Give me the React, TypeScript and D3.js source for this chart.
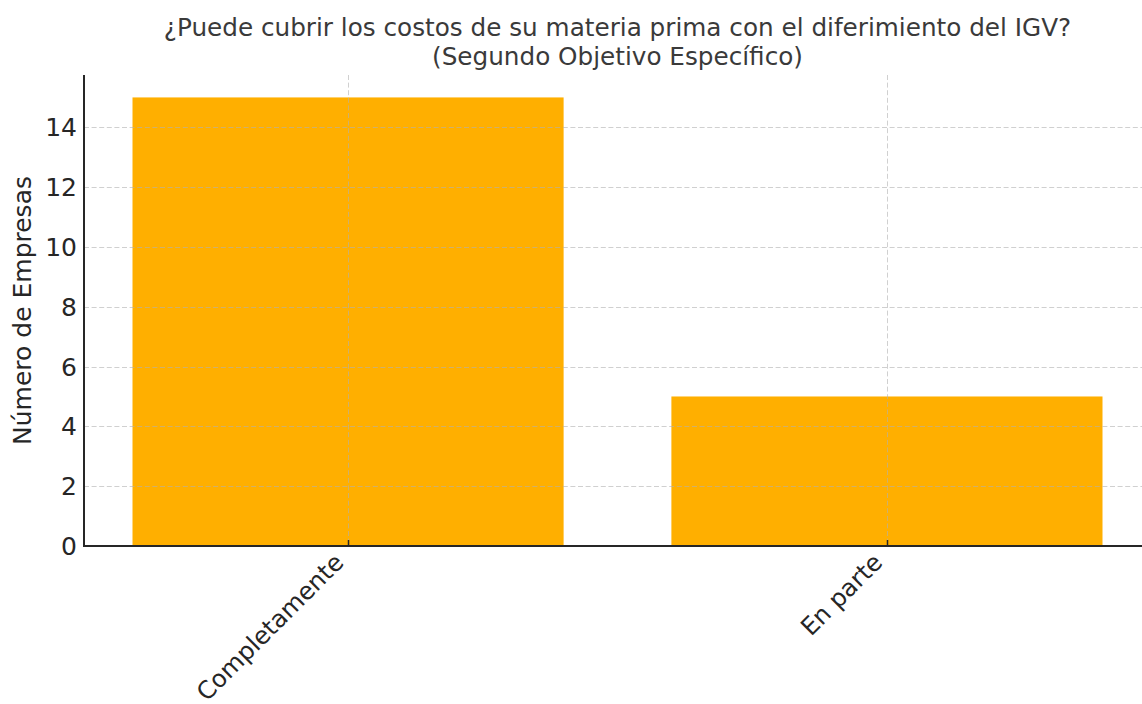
import React, { useEffect, useRef } from 'react';
import * as d3 from 'd3';

const categories = ['Completamente', 'En parte'];
const counts = [15, 5];
const yTicks = [0, 2, 4, 6, 8, 10, 12, 14];

const WIDTH = 1142;
const HEIGHT = 704;
// plot area (the right side runs a bit past the picture, as in the original)
const PLOT = { left: 84, right: 1151, top: 75, bottom: 546 };
const FONT = "'DejaVu Sans', sans-serif";

export default function App() {
  const ref = useRef<SVGSVGElement>(null);

  useEffect(() => {
    if (!ref.current) return;
    const svg = d3.select(ref.current);
    svg.selectAll('*').remove();

    // matplotlib style: categories at 0..n-1, bar width 0.8, 5% margins
    const n = categories.length;
    const lo = -0.4, hi = n - 1 + 0.4;
    const pad = (hi - lo) * 0.05;
    const x = d3.scaleLinear().domain([lo - pad, hi + pad]).range([PLOT.left, PLOT.right]);
    const y = d3
      .scaleLinear()
      .domain([0, d3.max(counts)! * 1.05])
      .range([PLOT.bottom, PLOT.top]);

    // bars
    svg
      .append('g')
      .selectAll('rect')
      .data(counts)
      .enter()
      .append('rect')
      .attr('x', (_, i) => x(i - 0.4))
      .attr('width', (_, i) => x(i + 0.4) - x(i - 0.4))
      .attr('y', (d) => y(d))
      .attr('height', (d) => y(0) - y(d))
      .attr('fill', '#ffaf00');

    // grid (drawn over the bars)
    const grid = svg.append('g').attr('stroke', '#b0b0b0').attr('stroke-opacity', 0.6)
      .attr('stroke-width', 1).attr('stroke-dasharray', '5,2.6');
    grid
      .selectAll('.hgrid')
      .data(yTicks.filter((t) => t > 0))
      .enter()
      .append('line')
      .attr('x1', PLOT.left)
      .attr('x2', PLOT.right)
      .attr('y1', (d) => Math.round(y(d)) + 0.5)
      .attr('y2', (d) => Math.round(y(d)) + 0.5);
    grid
      .selectAll('.vgrid')
      .data(categories)
      .enter()
      .append('line')
      .attr('x1', (_, i) => Math.round(x(i)) + 0.5)
      .attr('x2', (_, i) => Math.round(x(i)) + 0.5)
      .attr('y1', PLOT.top)
      .attr('y2', PLOT.bottom);

    // spines
    svg
      .append('line')
      .attr('x1', PLOT.left)
      .attr('x2', PLOT.left)
      .attr('y1', PLOT.top)
      .attr('y2', PLOT.bottom + 1)
      .attr('stroke', '#262626')
      .attr('stroke-width', 2);
    svg
      .append('line')
      .attr('x1', PLOT.left - 1)
      .attr('x2', PLOT.right)
      .attr('y1', PLOT.bottom)
      .attr('y2', PLOT.bottom)
      .attr('stroke', '#262626')
      .attr('stroke-width', 2);

    // x ticks point inward
    svg
      .append('g')
      .selectAll('line')
      .data(categories)
      .enter()
      .append('line')
      .attr('x1', (_, i) => Math.round(x(i)) + 0.5)
      .attr('x2', (_, i) => Math.round(x(i)) + 0.5)
      .attr('y1', PLOT.bottom)
      .attr('y2', PLOT.bottom - 6)
      .attr('stroke', '#262626')
      .attr('stroke-width', 1.5);

    // y tick labels
    svg
      .append('g')
      .selectAll('text')
      .data(yTicks)
      .enter()
      .append('text')
      .attr('x', PLOT.left - 7)
      .attr('y', (d) => y(d))
      .attr('dy', '0.36em')
      .attr('text-anchor', 'end')
      .style('font-family', FONT)
      .style('font-size', '25px')
      .style('fill', '#262626')
      .text((d) => d);

    // x tick labels, rotated 45
    svg
      .append('g')
      .selectAll('text')
      .data(categories)
      .enter()
      .append('text')
      .attr('transform', (_, i) => `translate(${x(i) - 3},${PLOT.bottom + 18}) rotate(-45)`)
      .attr('text-anchor', 'end')
      .style('font-family', FONT)
      .style('font-size', '24.3px')
      .style('fill', '#262626')
      .text((d) => d);

    // y axis label
    svg
      .append('text')
      .attr('transform', `translate(31,${(PLOT.top + PLOT.bottom) / 2}) rotate(-90)`)
      .attr('text-anchor', 'middle')
      .style('font-family', FONT)
      .style('font-size', '25px')
      .style('fill', '#262626')
      .text('Número de Empresas');

    // title
    const cx = (PLOT.left + PLOT.right) / 2;
    const title = svg
      .append('text')
      .attr('text-anchor', 'middle')
      .style('font-family', FONT)
      .style('font-size', '24.7px')
      .style('fill', '#3a3a3a');
    title.append('tspan').attr('x', cx).attr('y', 36).text('¿Puede cubrir los costos de su materia prima con el diferimiento del IGV?');
    title.append('tspan').attr('x', cx).attr('y', 65).text('(Segundo Objetivo Específico)');
  }, []);

  return (
    <svg
      ref={ref}
      width={WIDTH}
      height={HEIGHT}
      style={{ position: 'absolute', left: 0, top: 0, background: '#fff', overflow: 'hidden' }}
    />
  );
}
